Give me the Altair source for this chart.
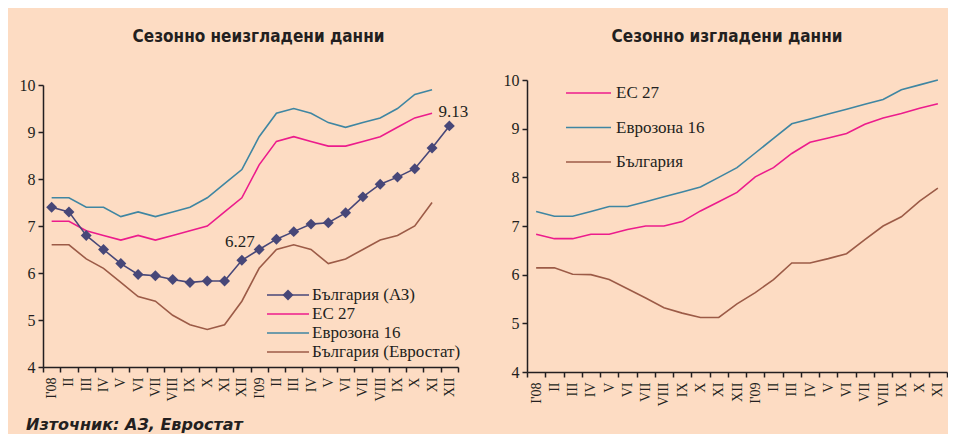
import json
import altair as alt
import pandas as pd

# ---------------- data ----------------
months = ["I'08", "II", "III", "IV", "V", "VI", "VII", "VIII", "IX", "X", "XI", "XII",
          "I'09", "II", "III", "IV", "V", "VI", "VII", "VIII", "IX", "X", "XI", "XII"]
left_months = months          # 24 months
right_months = months[:23]    # 23 months

left_series = ["България (АЗ)", "ЕС 27", "Еврозона 16", "България (Евростат)"]
right_series = ["ЕС 27", "Еврозона 16", "България"]

# seasonally unadjusted (left)
bg_az = [7.40, 7.30, 6.80, 6.50, 6.20, 5.97, 5.94, 5.86, 5.80, 5.83, 5.83, 6.27,
         6.50, 6.72, 6.88, 7.04, 7.07, 7.28, 7.62, 7.89, 8.04, 8.22, 8.66, 9.13]
eu27_nsa = [7.1, 7.1, 6.9, 6.8, 6.7, 6.8, 6.7, 6.8, 6.9, 7.0, 7.3, 7.6,
            8.3, 8.8, 8.9, 8.8, 8.7, 8.7, 8.8, 8.9, 9.1, 9.3, 9.4]
ez16_nsa = [7.6, 7.6, 7.4, 7.4, 7.2, 7.3, 7.2, 7.3, 7.4, 7.6, 7.9, 8.2,
            8.9, 9.4, 9.5, 9.4, 9.2, 9.1, 9.2, 9.3, 9.5, 9.8, 9.9]
bg_es_nsa = [6.6, 6.6, 6.3, 6.1, 5.8, 5.5, 5.4, 5.1, 4.9, 4.8, 4.9, 5.4,
             6.1, 6.5, 6.6, 6.5, 6.2, 6.3, 6.5, 6.7, 6.8, 7.0, 7.5]

# seasonally adjusted (right)
eu27_sa = [6.83, 6.74, 6.74, 6.83, 6.83, 6.93, 7.0, 7.0, 7.09, 7.31, 7.5, 7.69,
           8.01, 8.2, 8.49, 8.72, 8.81, 8.9, 9.09, 9.22, 9.31, 9.42, 9.51]
ez16_sa = [7.3, 7.2, 7.2, 7.3, 7.4, 7.4, 7.5, 7.6, 7.7, 7.8, 8.0, 8.2,
           8.5, 8.8, 9.1, 9.2, 9.3, 9.4, 9.5, 9.6, 9.8, 9.9, 10.0]
bg_sa = [6.14, 6.14, 6.01, 6.0, 5.9, 5.71, 5.52, 5.32, 5.21, 5.12, 5.12, 5.4,
         5.63, 5.9, 6.24, 6.24, 6.33, 6.43, 6.72, 7.0, 7.19, 7.51, 7.78]

y_ticks = [4, 5, 6, 7, 8, 9, 10]
labelled_idx = [11, 23]

# ---------------- style ----------------
BG = "#FDDCC3"
INK = "#231F20"
colors_left = ["#474778", "#EC1C8C", "#3F86A2", "#9C5B47"]
colors_right = ["#EC1C8C", "#3F86A2", "#9C5B47"]
SERIF = "Liberation Serif"


def long_df(series_names, arrays):
    rows = []
    for name, arr in zip(series_names, arrays):
        for i, v in enumerate(arr):
            rows.append({"idx": i, "series": name, "value": v})
    return pd.DataFrame(rows)


def x_enc(labels):
    n = len(labels)
    expr = "[" + ",".join(json.dumps(l) for l in labels) + "][datum.value]"
    return alt.X(
        "idx:O",
        bandPosition=0.5,
        scale=alt.Scale(type="band", domain=list(range(n)), paddingInner=0, paddingOuter=0),
        axis=alt.Axis(title=None, labelExpr=expr, labelAngle=270, tickBand="extent",
                      labelFontSize=14, labelPadding=5, labelOverlap=False),
    )


def y_enc():
    return alt.Y(
        "value:Q",
        scale=alt.Scale(domain=[4, 10], nice=False, zero=False),
        axis=alt.Axis(title=None, values=y_ticks, grid=False, labelFontSize=16,
                      labelPadding=3),
    )


def color_enc(domain, rng):
    return alt.Color("series:N", scale=alt.Scale(domain=domain, range=rng), legend=None)


def legend_layers(names, rng, y_first, y_last, x0, x1, xt, diamond_series=None, xm=None):
    df = pd.DataFrame({"series": names, "row": list(range(len(names)))})
    base = alt.Chart(df)
    yl = alt.Y("row:O", axis=None,
               scale=alt.Scale(type="point", domain=list(range(len(names))),
                               range=[y_first, y_last], padding=0))
    layers = [
        base.mark_rule(strokeWidth=1.6).encode(
            x=alt.value(x0), x2=alt.value(x1), y=yl, color=color_enc(names, rng)),
        base.mark_text(align="left", baseline="middle", font=SERIF, fontSize=17,
                       color=INK).encode(x=alt.value(xt), y=yl, text="series:N"),
    ]
    if diamond_series is not None:
        layers.append(
            base.transform_filter(alt.datum.series == diamond_series)
            .mark_point(shape="diamond", filled=True, size=120, opacity=1)
            .encode(x=alt.value(xm), y=yl, color=color_enc(names, rng))
        )
    return alt.layer(*layers)


# ---------------- left panel ----------------
ldf = long_df(left_series, [bg_az, eu27_nsa, ez16_nsa, bg_es_nsa])
lbase = alt.Chart(ldf).encode(x=x_enc(left_months), y=y_enc(),
                              color=color_enc(left_series, colors_left))
others = ["Еврозона 16", "ЕС 27", "България (Евростат)"]
l_lines = lbase.transform_filter(
    alt.FieldOneOfPredicate(field="series", oneOf=others)
).mark_line(strokeWidth=1.6)
az = lbase.transform_filter(alt.datum.series == left_series[0])
az_line = az.mark_line(strokeWidth=1.6)
az_pts = az.mark_point(shape="diamond", filled=True, size=120, opacity=1)
lab1 = az.transform_filter(alt.datum.idx == labelled_idx[0]).mark_text(
    font=SERIF, fontSize=17, dy=-18, dx=-2
).encode(text=alt.Text("value:Q", format=".2f"), color=alt.value(INK))
lab2 = az.transform_filter(alt.datum.idx == labelled_idx[1]).mark_text(
    font=SERIF, fontSize=17, dy=-14, dx=4
).encode(text=alt.Text("value:Q", format=".2f"), color=alt.value(INK))

left_main = alt.layer(l_lines, az_line, az_pts, lab1, lab2)
left_leg = legend_layers(left_series, colors_left, 210, 267, 224, 266, 269,
                         diamond_series=left_series[0], xm=245)
left = alt.layer(left_main, left_leg).resolve_scale(y="independent").properties(
    width=415, height=282,
    title=alt.TitleParams("Сезонно неизгладени данни", font="DejaVu Sans Condensed",
                          fontWeight="bold", fontSize=17, color=INK, offset=31, dx=8),
)

# ---------------- right panel ----------------
rdf = long_df(right_series, [eu27_sa, ez16_sa, bg_sa])
rbase = alt.Chart(rdf).encode(x=x_enc(right_months), y=y_enc(),
                              color=color_enc(right_series, colors_right))
r_lines = rbase.mark_line(strokeWidth=1.6)
right_leg = legend_layers(right_series, colors_right, 13, 82, 39, 84, 89)
right = alt.layer(r_lines, right_leg).resolve_scale(y="independent").properties(
    width=420, height=292,
    title=alt.TitleParams("Сезонно изгладени данни", font="DejaVu Sans Condensed",
                          fontWeight="bold", fontSize=17, color=INK, offset=26, dx=-10),
)

chart = alt.hconcat(left, right, spacing=69, bounds="flush", center=True).resolve_scale(
    color="independent"
).properties(
    title=alt.TitleParams("Източник: АЗ, Евростат", orient="bottom", anchor="start",
                          font="DejaVu Sans", fontStyle="italic", fontWeight="bold",
                          fontSize=16, color=INK, offset=11, dx=7),
    padding={"left": 11, "top": 20, "right": 0, "bottom": 0},
    background=BG,
).configure_view(stroke=None).configure_axis(
    domainColor=INK, domainWidth=1.5, tickColor=INK, tickWidth=1.5, tickSize=5,
    labelFont=SERIF, labelColor=INK,
)

chart.save("out.html", embed_options={"renderer": "svg", "actions": False})
